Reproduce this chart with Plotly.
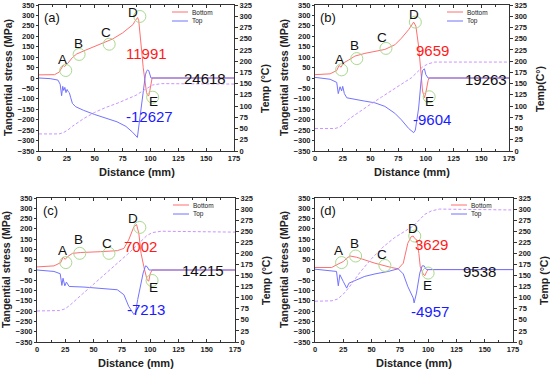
import plotly.graph_objects as go

# ---------------- Panel (a) ----------------
dist_bottom_a = [0, 10, 14, 18, 20, 21.7, 23, 25.6, 30, 33.8, 42, 54, 66, 75, 80, 84.5, 86, 88.5, 89.5, 90.5, 91.5, 92.5, 93.5, 94.5, 95.5, 96.5, 97.5, 98.5, 99.5, 100.5, 101.5, 175]
stress_bottom_a = [15, 15, 16, 28, 45, 60, 55, 69, 98, 115, 134, 159, 187, 216, 238, 257, 272, 290, 275, 230, 170, 110, 50, 0, -45, -70, -83, -85, -60, -25, 0, 0]
dist_top_a = [0, 10, 17, 19, 20.3, 21.3, 22.2, 23.2, 24.2, 25.2, 26.2, 27.2, 28.5, 30, 33, 40, 50, 60, 70, 78, 84, 88.3, 89.5, 90.5, 91.5, 92.5, 93.5, 94.5, 95.5, 96.5, 97.5, 98.5, 99.5, 100.5, 175]
stress_top_a = [0, -3, -10, -30, -85, -40, -60, -45, -70, -55, -65, -70, -95, -122, -138, -155, -175, -192, -210, -232, -260, -285, -235, -190, -140, -90, -45, -10, 15, 32, 39, 35, 15, 0, 0]
dist_temp_a = [0, 18, 22, 26, 30, 35, 40, 50, 60, 70, 80, 87, 92, 97, 102, 110, 175]
temp_a = [38, 38, 41, 47, 55, 64, 72, 86, 97, 106, 116, 124, 132, 140, 147, 150, 149]
point_x_a = [24, 36, 63, 90.5, 102]
point_y_a = [36, 113, 162, 295, -92]
max_a, min_a, total_a = "11991", "-12627", "24618"

# ---------------- Panel (b) ----------------
dist_bottom_b = [0, 13.6, 19.6, 21.7, 23.5, 25.6, 30, 36, 45, 54, 63, 72, 78, 84.5, 89, 91, 93.5, 95.7, 97, 98.7, 100, 102, 103, 175]
stress_bottom_b = [16, 20, 36, 60, 52, 72, 85, 105, 118, 126, 137, 159, 191, 232, 268, 249, 150, 20, -62, -95, -70, -13, 0, 0]
dist_top_b = [0, 13.6, 19.6, 21, 22.6, 24, 25, 26.5, 28.7, 36, 45, 54, 63, 72, 78, 84.5, 89, 90.5, 93.5, 95.7, 97, 98.7, 100, 102, 175]
stress_top_b = [3, -6, -21, -75, -42, -62, -40, -75, -95, -103, -111, -119, -136, -169, -201, -242, -262, -250, -144, -13, 36, 44, 16, 0, 0]
dist_temp_b = [0, 18, 22, 26, 30, 40, 50, 60, 70, 80, 87, 92, 97, 102, 108, 175]
temp_b = [50, 50, 53, 60, 70, 88, 104, 120, 137, 152, 163, 175, 187, 194, 198, 198]
point_x_b = [24, 37.7, 64, 90.5, 103]
point_y_b = [39, 93, 142, 268, -90]
max_b, min_b, total_b = "9659", "-9604", "19263"

# ---------------- Panel (c) ----------------
dist_bottom_c = [0, 15, 21, 23, 25, 27, 31.4, 38.7, 56, 71, 76.8, 81, 85.6, 88, 90, 92, 94.4, 96, 97.3, 98.8, 100, 101.7, 175]
stress_bottom_c = [15, 20, 36, 62, 52, 65, 81, 85, 89, 94, 105, 146, 210, 221, 178, 81, 17, -23, -48, -54, -19, 0, 0]
dist_top_c = [0, 15, 20.5, 22, 23, 24.6, 26, 28.4, 41.6, 56, 71, 76.8, 81, 85.6, 87, 89, 91.5, 93.8, 95.9, 97.3, 99, 175]
stress_top_c = [0, -7, -18, -75, -40, -77, -59, -80, -83, -88, -96, -120, -176, -216, -208, -144, -80, -15, 20, 17, 0, 0]
dist_temp_c = [0, 20, 25, 30, 40, 50, 60, 70, 80, 87, 92, 97, 102, 110, 175]
temp_c = [70, 71, 75, 85, 108, 130, 152, 175, 198, 215, 228, 240, 247, 250, 248]
point_x_c = [25.5, 37.8, 63.6, 90.9, 101.7]
point_y_c = [36, 81, 81, 207, -51]
max_c, min_c, total_c = "7002", "-7213", "14215"

# ---------------- Panel (d) ----------------
dist_bottom_d = [0, 14.7, 19, 22, 25, 28, 31, 36.8, 53, 67.6, 73.5, 78, 82, 85, 86.8, 88, 90, 91.8, 93, 95.6, 97, 98.8, 100, 175]
stress_bottom_d = [12, 12, 25, 33, 41, 57, 68, 62, 33, 12, 6, 33, 130, 162, 165, 154, 146, 81, 17, -19, -28, -7, 2, 2]
dist_top_d = [0, 14.7, 19, 20.6, 22, 25, 28, 30, 35, 44, 53, 64.7, 73.5, 78, 82, 86.8, 87.6, 89.7, 92.6, 94.7, 96.5, 98.5, 175]
stress_top_d = [4, -2, -7, -77, -23, -56, -88, -64, -52, -31, -19, -7, 6, -19, -80, -136, -160, -112, -15, 20, 20, 2, 2]
dist_temp_d = [0, 15, 20, 25, 30, 35, 40, 50, 60, 70, 80, 87, 92, 97, 103, 110, 175]
temp_d = [92, 93, 97, 108, 123, 140, 158, 188, 214, 235, 250, 262, 275, 288, 296, 300, 298]
point_x_d = [23.5, 35.9, 61.8, 88.2, 100]
point_y_d = [36, 68, 22, 165, -15]
max_d, min_d, total_d = "3629", "-4957", "9538"

point_letters = ["A", "B", "C", "D", "E"]
panel_tags = ["(a)", "(b)", "(c)", "(d)"]
temp_titles = ["Temp (°C)", "Temp(C°)", "Temp (°C)", "Temp (°C)"]
x_ticks = [0, 25, 50, 75, 100, 125, 150, 175]

FONT = "Liberation Sans, Arial, sans-serif"
RED = "#ff6f6f"
BLUE = "#7373ff"
VIOLET = "#c994ff"
GREEN = "#a9d98f"

panels = [
    dict(bx=dist_bottom_a, by=stress_bottom_a, tx=dist_top_a, ty=stress_top_a, hx=dist_temp_a, hy=temp_a,
         px=point_x_a, py=point_y_a, mx=max_a, mn=min_a, tot=total_a,
         xd=[39/550, 234/550], yd=[1-151/374, 1-5/374],
         letters=[(21, 90), (35.6, 167), (60, 216), (84.5, 314), (103, -112)],
         max_pos=(96.5, 118), min_pos=(99.6, -184), tot_pos=(149, -2)),
    dict(bx=dist_bottom_b, by=stress_bottom_b, tx=dist_top_b, ty=stress_top_b, hx=dist_temp_b, hy=temp_b,
         px=point_x_b, py=point_y_b, mx=max_b, mn=min_b, tot=total_b,
         xd=[315/550, 509/550], yd=[1-151/374, 1-5/374],
         letters=[(21.7, 88), (36, 158), (60.6, 196), (89.6, 305), (103, -115)],
         max_pos=(105.6, 131), min_pos=(105.6, -201), tot_pos=(154, -5)),
    dict(bx=dist_bottom_c, by=stress_bottom_c, tx=dist_top_c, ty=stress_top_c, hx=dist_temp_c, hy=temp_c,
         px=point_x_c, py=point_y_c, mx=max_c, mn=min_c, tot=total_c,
         xd=[37/550, 235/550], yd=[1-342/374, 1-198/374],
         letters=[(22.6, 97), (36.6, 149), (61.6, 130), (85, 250), (102.6, -83)],
         max_pos=(91.5, 113), min_pos=(95.9, -192), tot_pos=(147, 0)),
    dict(bx=dist_bottom_d, by=stress_bottom_d, tx=dist_top_d, ty=stress_top_d, hx=dist_temp_d, hy=temp_d,
         px=point_x_d, py=point_y_d, mx=max_d, mn=min_d, tot=total_d,
         xd=[315/550, 513/550], yd=[1-342/374, 1-198/374],
         letters=[(21.2, 94), (35.3, 130), (59.4, 73), (86.8, 202), (99.4, -76)],
         max_pos=(103, 126), min_pos=(101.5, -200), tot_pos=(145.6, -7)),
]

fig = go.Figure()
layout = dict(width=550, height=374, margin=dict(l=0, r=0, t=0, b=0, autoexpand=False),
              paper_bgcolor="white", plot_bgcolor="white", showlegend=False,
              font=dict(family=FONT, color="#222"))
annotations = []
shapes = []

tick_font = dict(family=FONT, size=7.5, color="#222", weight="bold")

for i, p in enumerate(panels):
    n = i + 1
    xname = "x" if n == 1 else f"x{n}"
    yl = 2 * n - 1
    yr = 2 * n
    ylname = "y" if yl == 1 else f"y{yl}"
    yrname = f"y{yr}"
    xkey = "xaxis" if n == 1 else f"xaxis{n}"
    ylkey = "yaxis" if yl == 1 else f"yaxis{yl}"
    yrkey = f"yaxis{yr}"

    fig.add_trace(go.Scatter(x=p["hx"], y=p["hy"], mode="lines", name="Temp",
                             line=dict(color=VIOLET, width=1, dash="3px,2px"),
                             xaxis=xname, yaxis=yrname))
    fig.add_trace(go.Scatter(x=p["bx"], y=p["by"], mode="lines", name="Bottom",
                             line=dict(color=RED, width=1), xaxis=xname, yaxis=ylname))
    fig.add_trace(go.Scatter(x=p["tx"], y=p["ty"], mode="lines", name="Top",
                             line=dict(color=BLUE, width=1), xaxis=xname, yaxis=ylname))
    fig.add_trace(go.Scatter(x=p["px"], y=p["py"], mode="markers", name="points",
                             marker=dict(symbol="circle-open", size=12, color=GREEN, line=dict(width=1)),
                             xaxis=xname, yaxis=ylname))

    layout[xkey] = dict(domain=p["xd"], anchor=ylname, range=[0, 175], tickvals=x_ticks,
                        showline=True, linecolor="#333", linewidth=1, mirror="ticks",
                        ticks="inside", ticklen=3, tickcolor="#333",
                        minor=dict(ticks="inside", ticklen=2, dtick=12.5, tickcolor="#333"),
                        showgrid=False, zeroline=False, tickfont=tick_font, automargin=False)
    layout[ylkey] = dict(domain=p["yd"], anchor=xname, range=[-350, 350], dtick=50,
                         showline=True, linecolor="#333", linewidth=1,
                         ticks="outside", ticklen=2, tickcolor="#333",
                         showgrid=False, zeroline=False, tickfont=tick_font, automargin=False)
    layout[yrkey] = dict(overlaying=ylname, anchor=xname, side="right", range=[0, 325], dtick=25,
                         showline=True, linecolor="#333", linewidth=1,
                         ticks="outside", ticklen=3, tickcolor="#333",
                         showgrid=False, zeroline=False, tickfont=tick_font, automargin=False)

    for (lx, ly), letter in zip(p["letters"], point_letters):
        annotations.append(dict(x=lx, y=ly, xref=xname, yref=ylname, text=letter, showarrow=False,
                                font=dict(size=13.5, color="#111", family=FONT)))
    annotations.append(dict(x=p["max_pos"][0], y=p["max_pos"][1], xref=xname, yref=ylname, text=p["mx"],
                            showarrow=False, font=dict(size=15, color="#ff1a1a", family=FONT)))
    annotations.append(dict(x=p["min_pos"][0], y=p["min_pos"][1], xref=xname, yref=ylname, text=p["mn"],
                            showarrow=False, font=dict(size=15, color="#1a1aff", family=FONT)))
    annotations.append(dict(x=p["tot_pos"][0], y=p["tot_pos"][1], xref=xname, yref=ylname, text=p["tot"],
                            showarrow=False, font=dict(size=15, color="#111", family=FONT)))

    x0, x1 = p["xd"]
    y0, y1 = p["yd"]
    W, H = 550, 374
    annotations.append(dict(x=x0 + 13/W, y=y1 - 12/H, xref="paper", yref="paper", text=panel_tags[i],
                            showarrow=False, xanchor="center", yanchor="middle",
                            font=dict(size=13, color="#111", family=FONT)))
    annotations.append(dict(x=(x0 + x1) / 2, y=y0 - 21/H, xref="paper", yref="paper",
                            text="<b>Distance (mm)</b>", showarrow=False,
                            xanchor="center", yanchor="middle",
                            font=dict(size=11, color="#222", family=FONT)))
    annotations.append(dict(x=x0 - 31/W, y=(y0 + y1) / 2, xref="paper", yref="paper",
                            text="<b>Tangential stress (MPa)</b>", showarrow=False, textangle=-90,
                            xanchor="center", yanchor="middle",
                            font=dict(size=10.5, color="#222", family=FONT)))
    annotations.append(dict(x=x1 + 31/W, y=(y0 + y1) / 2 - 11/H, xref="paper", yref="paper",
                            text="<b>" + temp_titles[i] + "</b>", showarrow=False, textangle=-90,
                            xanchor="center", yanchor="middle",
                            font=dict(size=10.5, color="#222", family=FONT)))
    lx0 = x1 - 62/W
    for k, (nm, col) in enumerate([("Bottom", RED), ("Top", BLUE)]):
        ly = y1 - (7 + 9 * k) / H
        shapes.append(dict(type="line", xref="paper", yref="paper", x0=lx0, x1=lx0 + 16/W,
                           y0=ly, y1=ly, line=dict(color=col, width=1)))
        annotations.append(dict(x=lx0 + 18/W, y=ly, xref="paper", yref="paper", text=nm,
                                showarrow=False, xanchor="left", yanchor="middle",
                                font=dict(size=6.5, color="#222", family=FONT)))

layout["annotations"] = annotations
layout["shapes"] = shapes
fig.update_layout(**layout)
fig.write_html("out.html", config={"displayModeBar": False},
               post_script="document.body.style.margin='0';document.body.style.padding='0';")
